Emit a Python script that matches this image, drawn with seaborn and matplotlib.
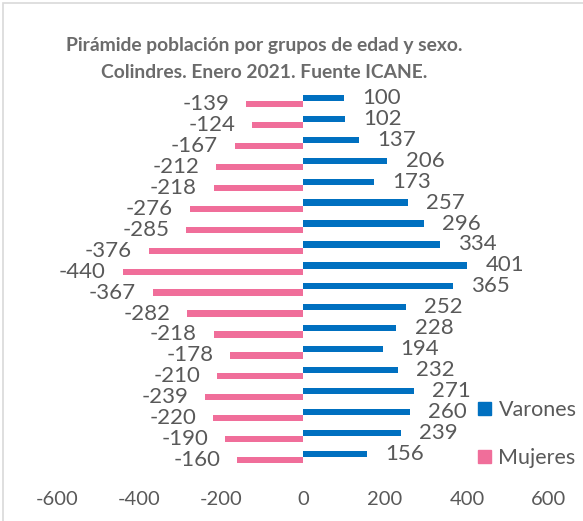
import pandas as pd
import seaborn as sns
import matplotlib.pyplot as plt
from matplotlib.patches import Patch, Rectangle

# age groups, top row first (as drawn)
grupos = ['85+', '80-84', '75-79', '70-74', '65-69', '60-64', '55-59', '50-54', '45-49',
          '40-44', '35-39', '30-34', '25-29', '20-24', '15-19', '10-14', '5-9', '0-4']
varones = [100, 102, 137, 206, 173, 257, 296, 334, 401, 365, 252, 228, 194, 232, 271, 260, 239, 156]
mujeres = [-139, -124, -167, -212, -218, -276, -285, -376, -440, -367, -282, -218, -178, -210, -239, -220, -190, -160]
x_ticks = [-600, -400, -200, 0, 200, 400, 600]

azul = '#0070c0'
rosa = '#f06e9a'
gris = '#595959'

df = pd.DataFrame({
    'Grupo': grupos * 2,
    'Sexo': ['Varones'] * len(grupos) + ['Mujeres'] * len(grupos),
    'Poblacion': varones + mujeres,
})

sns.set_style('white')
plt.rcParams['font.family'] = ['Lato', 'DejaVu Sans']

fig, ax = plt.subplots(figsize=(5.83, 5.21), dpi=100)
fig.subplots_adjust(left=57 / 583, right=549 / 583, top=0.826, bottom=0.103)

sns.barplot(data=df, y='Grupo', x='Poblacion', hue='Sexo', order=grupos,
            hue_order=['Varones', 'Mujeres'], palette=[azul, rosa], orient='h',
            width=0.6, linewidth=0, saturation=1, legend=False, ax=ax)

for cont, pad in zip(ax.containers, [13, 12]):
    ax.bar_label(cont, padding=pad, fontsize=16, color=gris)

ax.set_xlim(-600, 600)
ax.set_xticks(x_ticks)
ax.set_xticklabels([str(t) for t in x_ticks])
ax.set_yticks([])
ax.set_xlabel('')
ax.set_ylabel('')
ax.tick_params(axis='x', length=0, pad=17, labelsize=14.5, labelcolor=gris)
sns.despine(ax=ax, left=True, bottom=True)

fig.text(0.453, 1 - 45 / 521, 'Pirámide población por grupos de edad y sexo.',
         ha='center', va='center', fontsize=13.9, fontweight='bold', color='#6b6b6b')
fig.text(0.453, 1 - 72 / 521, 'Colindres. Enero 2021. Fuente ICANE.',
         ha='center', va='center', fontsize=13.9, fontweight='bold', color='#6b6b6b')

handles = [Patch(color=azul, label='Varones'), Patch(color=rosa, label='Mujeres')]
fig.legend(handles=handles, loc='center left', bbox_to_anchor=(478 / 583, 1 - 434 / 521),
           frameon=False, fontsize=15.5, labelcolor=gris, handlelength=0.6,
           handleheight=0.6, handletextpad=0.35, labelspacing=1.3, borderpad=0,
           borderaxespad=0)

fig.patches.append(Rectangle((3 / 583, -0.1), 1.2, 1.1 - 3 / 521, transform=fig.transFigure,
                             fill=False, edgecolor='#d9d9d9', linewidth=1.2))

fig.savefig('out.png', dpi=100)
